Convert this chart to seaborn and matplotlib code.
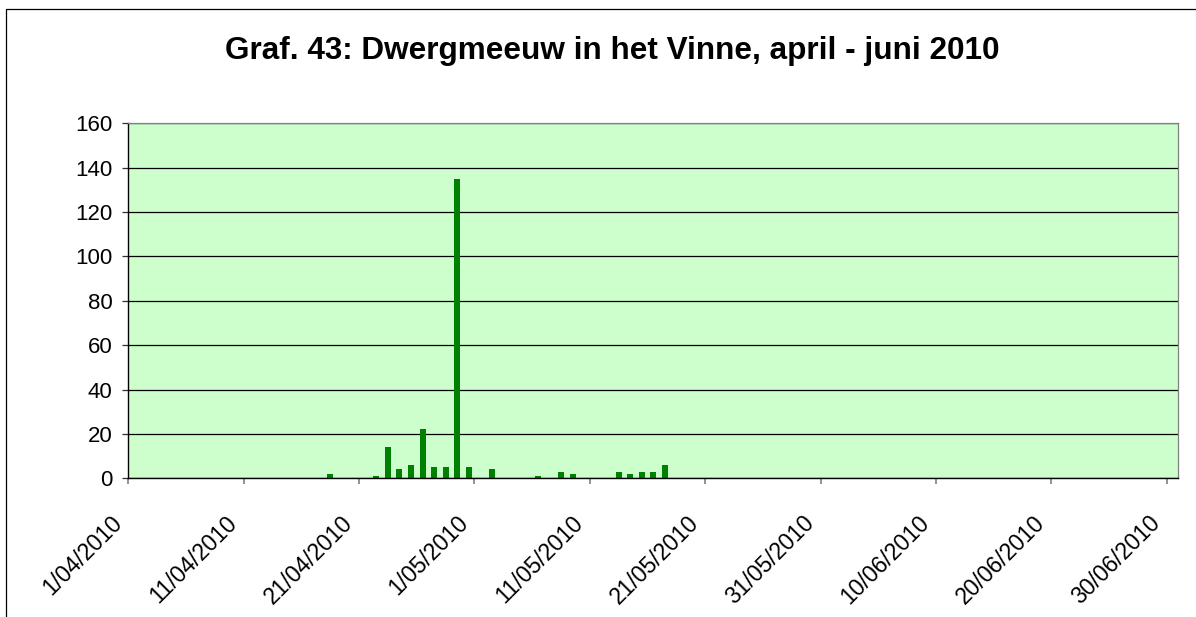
import matplotlib
matplotlib.use("Agg")
import matplotlib.pyplot as plt
import matplotlib.transforms as mtransforms
from matplotlib.patches import Rectangle
import pandas as pd
import seaborn as sns

# Daily counts of Little Gull (Dwergmeeuw) at het Vinne, spring 2010
obs_dates = [
    "2010-04-18", "2010-04-22", "2010-04-23", "2010-04-24", "2010-04-25",
    "2010-04-26", "2010-04-27", "2010-04-28", "2010-04-29", "2010-04-30",
    "2010-05-02", "2010-05-06", "2010-05-08", "2010-05-09", "2010-05-13",
    "2010-05-14", "2010-05-15", "2010-05-16", "2010-05-17",
]
counts = [2, 1, 14, 4, 6, 22, 5, 5, 135, 5, 4, 1, 3, 2, 3, 2, 3, 3, 6]

period_start = "2010-04-01"
period_end = "2010-07-01"
y_ticks = [0, 20, 40, 60, 80, 100, 120, 140, 160]
title = "Graf. 43: Dwergmeeuw in het Vinne, april - juni 2010"

W, H, DPI = 1196, 617, 100

sns.set_theme(style="white")
plt.rcParams["font.family"] = ["Liberation Sans", "DejaVu Sans"]

start = pd.Timestamp(period_start)
end = pd.Timestamp(period_end)
tick_dates = pd.date_range(period_start, "2010-06-30", freq="10D")
tick_pos = [(d - start).days for d in tick_dates]
tick_labels = [f"{d.day}/{d.month:02d}/{d.year}" for d in tick_dates]

# each bar sits in the middle of its day slot
df = pd.DataFrame({
    "day": [(pd.Timestamp(d) - start).days + 0.5 for d in obs_dates],
    "count": counts,
})

fig = plt.figure(figsize=(W / DPI, H / DPI), dpi=DPI, facecolor="white")
ax = fig.add_axes([128.3 / W, 1 - 478.3 / H, 1050 / W, 355 / H])
ax.set_facecolor("#CCFFCC")

sns.barplot(data=df, x="day", y="count", native_scale=True, orient="x",
            width=0.52, color="#008000", saturation=1, errorbar=None,
            linewidth=0, ax=ax)

ax.set_xlim(0, (end - start).days)
ax.set_ylim(0, 160)
ax.set_xlabel("")
ax.set_ylabel("")

ax.set_yticks(y_ticks)
ax.set_yticklabels([str(v) for v in y_ticks], fontsize=16, color="black")
ax.set_xticks(tick_pos)
ax.set_xticklabels(tick_labels, rotation=45, ha="right", va="center",
                   rotation_mode="anchor", fontsize=16.5, color="black")

ax.yaxis.grid(True, color="black", linewidth=0.9)
ax.xaxis.grid(False)
ax.set_axisbelow(True)

ax.tick_params(axis="y", which="major", left=True, length=4.3, width=0.9,
               color="#303030", pad=7)
ax.tick_params(axis="x", which="major", bottom=True, length=4.3, width=1.2,
               color="#808080", pad=25.5)

# nudge the slanted date labels a little to the left of their ticks
shift = mtransforms.ScaledTranslation(-10 / DPI, 0, fig.dpi_scale_trans)
for tick in ax.xaxis.get_major_ticks():
    tick.label1.set_transform(tick.label1.get_transform() + shift)

for side in ("top", "right"):
    ax.spines[side].set_color("#808080")
    ax.spines[side].set_linewidth(0.9)
for side in ("left", "bottom"):
    ax.spines[side].set_color("black")
    ax.spines[side].set_linewidth(1.0)

# outer chart frame (runs off the right and bottom edges)
frame = Rectangle((6 / W, -0.1), 1.2, 1 - 9 / H + 0.1, transform=fig.transFigure,
                  fill=False, edgecolor="black", linewidth=0.9, clip_on=False)
fig.patches.append(frame)

fig.text(612 / W, 1 - 59 / H, title, ha="center", va="baseline",
         fontsize=22.7, fontweight="bold", color="black")

fig.savefig("out.png", dpi=DPI, facecolor="white")
